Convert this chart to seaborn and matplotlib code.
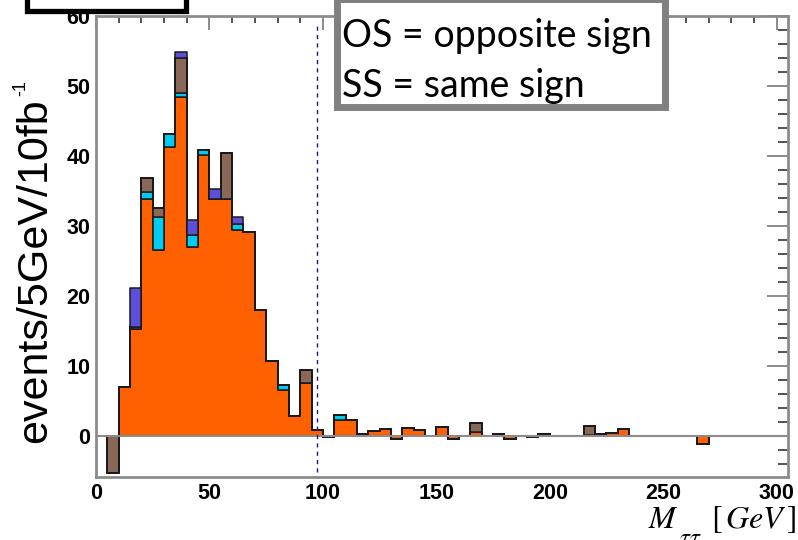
import numpy as np
import pandas as pd
import matplotlib
matplotlib.use('Agg')
import matplotlib.pyplot as plt
from matplotlib.patches import Rectangle
from matplotlib.ticker import MultipleLocator
import seaborn as sns

# 5 GeV bins from 0 to 300
bin_edges = list(range(0, 305, 5))

# stacked contributions per bin (events / 5 GeV / 10 fb^-1)
orange = [0, -0.1, 6.9, 15.2, 33.9, 26.5, 41.3, 48.4, 27.0, 40.2,
          33.8, 33.9, 29.4, 29.1, 18.0, 10.7, 6.5, 2.8, 7.5, 0.85,
          -0.2, 2.3, 2.3, 0.3, 0.7, 0.9, -0.4, 1.1, 0.86, 0,
          1.3, -0.4, 0, 0.5, 0, 0.3, -0.4, 0, -0.2, 0.3,
          0, 0, 0, 0.05, 0.2, 0.4, 0.9, 0, 0, 0,
          0, 0, 0, -1.2, 0, 0, 0, 0, 0, 0]
cyan = [0, 0, 0, 0, 1.0, 4.8, 1.9, 0.6, 1.7, 0.7,
        0, 0, 0.9, 0, 0, 0, 0.7, 0, 0, 0,
        0, 0.6, 0, 0, 0, 0, 0, 0, 0, 0,
        0, 0, 0, 0, 0, 0, 0, 0, 0, 0,
        0, 0, 0, 0, 0, 0, 0, 0, 0, 0,
        0, 0, 0, 0, 0, 0, 0, 0, 0, 0]
brown = [0, -5.2, 0, 0.4, 2.0, 1.2, 0, 5.0, 0, 0,
         0, 6.5, 0, 0, 0, 0, 0, 0, 1.9, 0,
         0, 0, 0, 0, 0, 0, 0, 0, 0, 0,
         0, 0, 0, 1.3, 0, 0, 0, 0, 0, 0,
         0, 0, 0, 1.3, 0, 0, 0, 0, 0, 0,
         0, 0, 0, 0, 0, 0, 0, 0, 0, 0]
blue = [0, 0, 0, 5.5, 0, 0, 0, 0.9, 2.1, 0,
        1.5, 0, 0.9, 0, 0, 0, 0, 0, 0, 0,
        0, 0, 0, 0, 0, 0, 0, 0, 0, 0,
        0, 0, 0, 0, 0, 0, 0, 0, 0, 0,
        0, 0, 0, 0, 0, 0, 0, 0, 0, 0,
        0, 0, 0, 0, 0, 0, 0, 0, 0, 0]

cut_value = 97.5

centers = np.array(bin_edges[:-1]) + 2.5
parts = {'blue': blue, 'brown': brown, 'cyan': cyan, 'orange': orange}
df = pd.concat([pd.DataFrame({'m': centers, 'w': vals, 'comp': name})
                for name, vals in parts.items()], ignore_index=True)

colors = {'orange': '#ff6000', 'cyan': '#00ccf2', 'brown': '#8a6858', 'blue': '#5b50da'}

sns.set_style('white')
plt.rcParams['font.family'] = ['Liberation Sans', 'DejaVu Sans']
plt.rcParams['text.color'] = 'black'

W, H = 798, 540
fig = plt.figure(figsize=(W / 100, H / 100), dpi=100)
ax = fig.add_axes([96 / W, 1 - 477 / H, (788 - 96) / W, (477 - 16) / H])

# last hue level ends up at the bottom of the stack
sns.histplot(data=df, x='m', weights='w', hue='comp',
             hue_order=['blue', 'brown', 'cyan', 'orange'], palette=colors,
             bins=bin_edges, multiple='stack', element='step', fill=True,
             alpha=1, edgecolor='#1a1a1a', linewidth=1.1, legend=False, ax=ax)

ax.axhline(0, color='#8c8c8c', lw=1.5, zorder=5)
ax.vlines(cut_value, -5.2, 59.2, colors='#1a1a80', linestyles=(0, (3, 3)), lw=1.0, zorder=6)

ax.set_xlim(0, 305)
ax.set_ylim(-5.9, 60)
ax.set_xlabel('')
ax.set_ylabel('')

ax.xaxis.set_major_locator(MultipleLocator(50))
ax.xaxis.set_minor_locator(MultipleLocator(10))
ax.yaxis.set_major_locator(MultipleLocator(10))
ax.yaxis.set_minor_locator(MultipleLocator(2))

ax.tick_params(axis='both', which='both', direction='in', top=True, right=True,
               labelcolor='black')
ax.tick_params(axis='x', which='major', length=10, width=1.4, color='#8c8c8c', pad=4)
ax.tick_params(axis='x', which='minor', length=5, width=1.2, color='#333333')
ax.tick_params(axis='y', which='major', length=15, width=1.4, color='#8c8c8c', pad=4)
ax.tick_params(axis='y', which='minor', length=7.5, width=1.2, color='#333333')
for lab in ax.get_xticklabels() + ax.get_yticklabels():
    lab.set_fontsize(15.5)
    lab.set_fontweight('bold')

for sp in ax.spines.values():
    sp.set_color('#8c8c8c')
    sp.set_linewidth(2)

# y label, with a small raised "-1" after it
ylab = fig.text(46 / W, 1 - 443 / H, 'events/5GeV/10fb', rotation=90,
                rotation_mode='anchor', ha='left', va='baseline', fontsize=31)
fig.canvas.draw()
bb = ylab.get_window_extent()
fig.text(25 / W, (bb.y1 + 2) / H, '-1', rotation=90, rotation_mode='anchor',
         ha='left', va='baseline', fontsize=13)

# x label: M with a low tau-tau subscript (cut by the bottom edge), then [GeV]
fig.text(648 / W, 1 - 528 / H, '$M$', ha='left', va='baseline',
         fontsize=23, math_fontfamily='stix')
fig.text(679 / W, 1 - 545 / H, r'$\tau\tau$', ha='left', va='baseline',
         fontsize=18, math_fontfamily='stix')
fig.text(796 / W, 1 - 528 / H, r'$[\,GeV\,]$', ha='right', va='baseline',
         fontsize=23, math_fontfamily='stix')

# black box at top left (cut by the top edge)
fig.add_artist(Rectangle((27 / W, 1 - 11 / H), 159 / W, 0.2,
                         transform=fig.transFigure, facecolor='white',
                         edgecolor='black', lw=3.8, clip_on=False, zorder=10))

# OS / SS legend box
fig.add_artist(Rectangle((336.5 / W, 1 - 106.5 / H), 328 / W, 0.2,
                         transform=fig.transFigure, facecolor='white',
                         edgecolor='#808080', lw=5, clip_on=False, zorder=10))
fig.text(342 / W, 1 - 47 / H, 'OS = opposite sign', fontsize=27,
         family='Lato', ha='left', va='baseline', zorder=11)
fig.text(342 / W, 1 - 97 / H, 'SS = same sign', fontsize=27,
         family='Lato', ha='left', va='baseline', zorder=11)

fig.savefig('out.png', dpi=100)
